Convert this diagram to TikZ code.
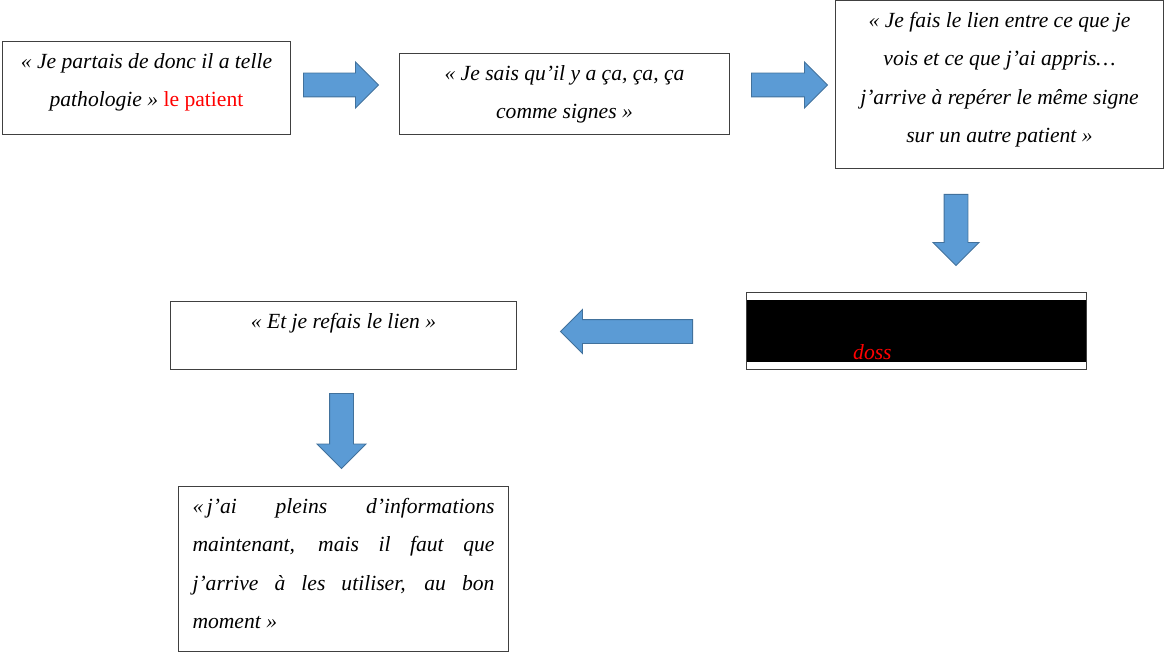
\documentclass[tikz,border=0pt]{standalone}
\usepackage{fontspec}
\setmainfont{Liberation Serif}
\usepackage{xcolor}
\usepackage{tikz}
\usetikzlibrary{shapes.arrows}
\definecolor{arrfill}{HTML}{5B9BD5}
\definecolor{arrline}{HTML}{41719C}
\definecolor{boxline}{HTML}{404040}
% text set from the top of the box
\newcommand{\ctxt}[3]{\parbox[c][#2][t]{#1}{\centering\rule{0pt}{27pt}#3}}
\newcommand{\jtxt}[3]{\parbox[c][#2][t]{#1}{\rule{0pt}{27pt}#3}}

\begin{document}
\begin{tikzpicture}[x=1pt, y=-1pt, every node/.style={font=\fontsize{21.6}{38.3}\selectfont\itshape}, citebox/.style={draw=boxline, line width=1pt, anchor=north west, inner ysep=0pt, inner xsep=6pt}, bluearr/.style={single arrow, draw=arrline, fill=arrfill, line width=0.9pt, inner xsep=0pt, inner ysep=11.5pt, single arrow head extend=11pt, single arrow tip angle=90, anchor=tail}]
\useasboundingbox (0,0) rectangle (1164,652);
\node[citebox] (partais) at (2,41) {\ctxt{276pt}{93pt}{« Je partais de donc il a telle\\ pathologie » {\upshape\color{red}le patient}}};
\node[citebox] (signes) at (399,53) {\ctxt{318pt}{81pt}{« Je sais qu’il y a ça, ça, ça\\ comme signes »}};
\node[citebox] (lien) at (835,0) {\ctxt{316pt}{168pt}{« Je fais le lien entre ce que je\\ vois et ce que j’ai appris…\\ j’arrive à repérer le même signe\\ sur un autre patient »}};
\node[citebox, inner sep=0pt, minimum width=340, minimum height=77] (dossier) at (746,292) {};
\node[fill=black, inner sep=0pt, minimum width=339, minimum height=62, anchor=north west] (masque) at (747,300) {};
\node[text=red, inner sep=0pt, anchor=base west] (doss) at (853,359) {doss};
\node[citebox] (refais) at (170,301) {\ctxt{334pt}{68pt}{« Et je refais le lien »}};
\node[citebox, inner xsep=14pt] (infos) at (178,486) {\jtxt{302pt}{165pt}{«\,j’ai pleins d’informations\linebreak maintenant, mais il faut que\linebreak j’arrive à les utiliser, au bon\linebreak moment »}};
\node[bluearr, minimum height=75, minimum width=45] (fl1) at (303,85) {};
\node[bluearr, minimum height=76, minimum width=45] (fl2) at (751,85) {};
\node[bluearr, minimum height=71, minimum width=45, rotate=-90] (fl3) at (956,194) {};
\node[bluearr, minimum height=132, minimum width=43, single arrow head extend=10pt, rotate=180] (fl4) at (693,331.5) {};
\node[bluearr, minimum height=75, minimum width=48, single arrow head extend=12.5pt, rotate=-90] (fl5) at (341.5,393) {};
\end{tikzpicture}
\end{document}
